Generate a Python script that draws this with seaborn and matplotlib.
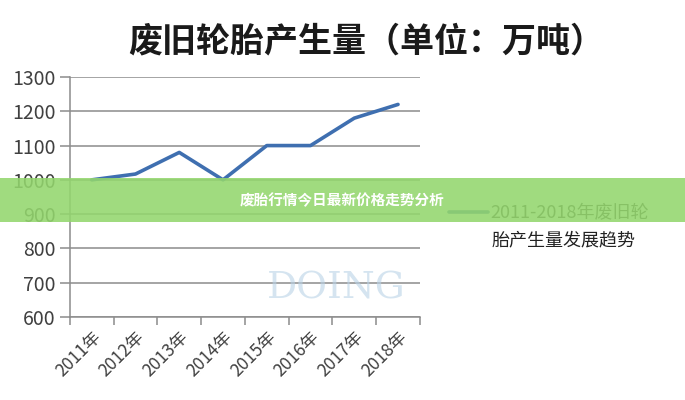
import numpy as np
import pandas as pd
import matplotlib
matplotlib.use("Agg")
import matplotlib.pyplot as plt
import seaborn as sns
from matplotlib.patches import Rectangle

#%% Data

years = ['2011年', '2012年', '2013年', '2014年', '2015年', '2016年', '2017年', '2018年']
output = [1000, 1017, 1080, 1000, 1100, 1100, 1180, 1220]
yticks = [600, 700, 800, 900, 1000, 1100, 1200, 1300]

title = '废旧轮胎产生量（单位：万吨）'
legend_lines = ['2011-2018年废旧轮', '胎产生量发展趋势']
banner = '废胎行情今日最新价格走势分析'

df = pd.DataFrame({'year': years, 'output': output})

#%% Plot

sns.set_theme(style='white')
plt.rcParams['font.family'] = ['Noto Sans CJK SC', 'DejaVu Sans']

fig = plt.figure(figsize=(6.85, 4.0), dpi=100)
ax = fig.add_axes([0.102, 0.2075, 0.511, 0.60])

sns.lineplot(data=df, x='year', y='output', ax=ax, color='#3f6fb0',
             linewidth=2.6, label=legend_lines[0], sort=False)

ax.set_xlim(-0.5, len(years) - 0.5)
ax.set_ylim(600, 1300)
ax.set_yticks(yticks)
ax.yaxis.grid(True, color='#8c8c8c', linewidth=1.1)
ax.set_axisbelow(True)
ax.set_xlabel('')
ax.set_ylabel('')

for s in ['top', 'right']:
    ax.spines[s].set_visible(False)
ax.spines['left'].set_color('#8c8c8c')
ax.spines['bottom'].set_color('#8c8c8c')
ax.spines['left'].set_linewidth(1.1)
ax.spines['bottom'].set_linewidth(1.1)

ax.set_xticks(range(len(years)))
ax.set_xticklabels(years, rotation=45, ha='right', rotation_mode='anchor',
                   fontsize=12.5, color='#404040')
ax.set_xticks(np.arange(-0.5, len(years)), minor=True)
ax.tick_params(axis='x', which='major', length=0, pad=8)
ax.tick_params(axis='x', which='minor', length=6, width=1.1, color='#8c8c8c', bottom=True)
ax.tick_params(axis='y', length=7, width=1.1, color='#8c8c8c', left=True,
               labelsize=14, labelcolor='#404040', pad=3)

# legend: first line with the handle, second line below it
leg = ax.legend(loc='center left', bbox_to_anchor=(0.655, 0.467), bbox_transform=fig.transFigure,
                frameon=False, fontsize=13, handlelength=2.2, handletextpad=0.1,
                borderpad=0, borderaxespad=0)
for t in leg.get_texts():
    t.set_color('#333333')
fig.text(0.718, 0.40, legend_lines[1], fontsize=13, color='#222222', ha='left', va='center')

# faint watermark
fig.text(0.491, 0.278, 'DOING', fontsize=27, color='#b9d3e6', alpha=0.6,
         ha='center', va='center', family='DejaVu Serif')

fig.text(0.534, 0.898, title, fontsize=24.5, ha='center', va='center', color='#1a1a1a',
         fontweight='bold')

# green banner across the middle
fig.patches.append(Rectangle((0, 0.445), 1, 0.11, transform=fig.transFigure,
                             facecolor='#93d66d', alpha=0.88, edgecolor='none', zorder=5))
fig.text(0.5, 0.5, banner, fontsize=10.5, color='white', fontweight='bold',
         ha='center', va='center', zorder=6)

fig.savefig('out.png', dpi=100)
